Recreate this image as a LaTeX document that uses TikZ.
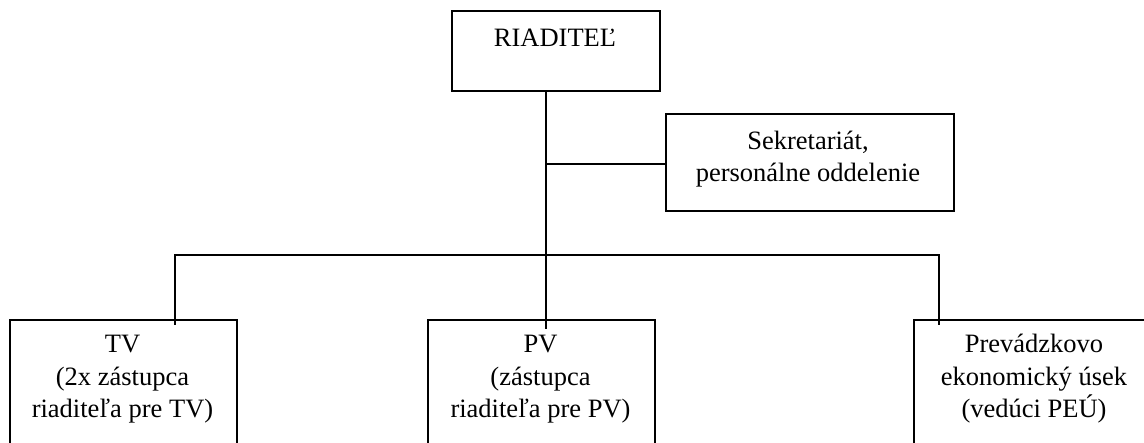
\documentclass[tikz,border=0pt]{standalone}
\usepackage{fontspec}
\setmainfont{Liberation Serif}
\begin{document}
\begin{tikzpicture}[x=1pt,y=-1pt,
  box/.style={draw=black, line width=1.9pt, rectangle, inner sep=0pt, anchor=north west},
  lbl/.style={font=\fontsize{26.5}{32.5}\selectfont, align=center, anchor=base, inner sep=0pt},
  conn/.style={draw=black, line width=1.9pt}]
\useasboundingbox (0,0) rectangle (1144,443);
\clip (0,0) rectangle (1144,443);
% boxes
\node[box, minimum width=208, minimum height=80] (dir) at (451,10) {};
\node[box, minimum width=288, minimum height=97] (sek) at (665,113) {};
\node[box, minimum width=227, minimum height=160] (tv) at (9,319) {};
\node[box, minimum width=227, minimum height=160] (pv) at (427,319) {};
\node[box, minimum width=242, minimum height=160] (peu) at (913,319) {};
% texts (anchor base = baseline of last line)
\node[lbl] (tdir) at (555,47) {RIADITEĽ};
\node[lbl] (tsek) at (808,182) {Sekretariát,\\personálne oddelenie};
\node[lbl] (ttv) at (122.5,418) {TV\\(2x zástupca\\riaditeľa pre TV)};
\node[lbl] (tpv) at (540.5,418) {PV\\(zástupca\\riaditeľa pre PV)};
\node[lbl] (tpeu) at (1034,418) {Prevádzkovo\\ekonomický úsek\\(vedúci PEÚ)};
% junctions
\coordinate (j1) at (546,164);
\coordinate (j2) at (546,255);
\coordinate (hl) at (175,255);
\coordinate (hr) at (939,255);
% connectors
\draw[conn] (dir.south -| j1) -- (j2);
\draw[conn] (j2) -- ([yshift=-10]pv.north -| j2);
\draw[conn] (j1) -- (sek.west |- j1);
\draw[conn] ([yshift=-6]tv.north -| hl) -- (hl) -- (hr) -- ([yshift=-6]peu.north -| hr);
\end{tikzpicture}
\end{document}
